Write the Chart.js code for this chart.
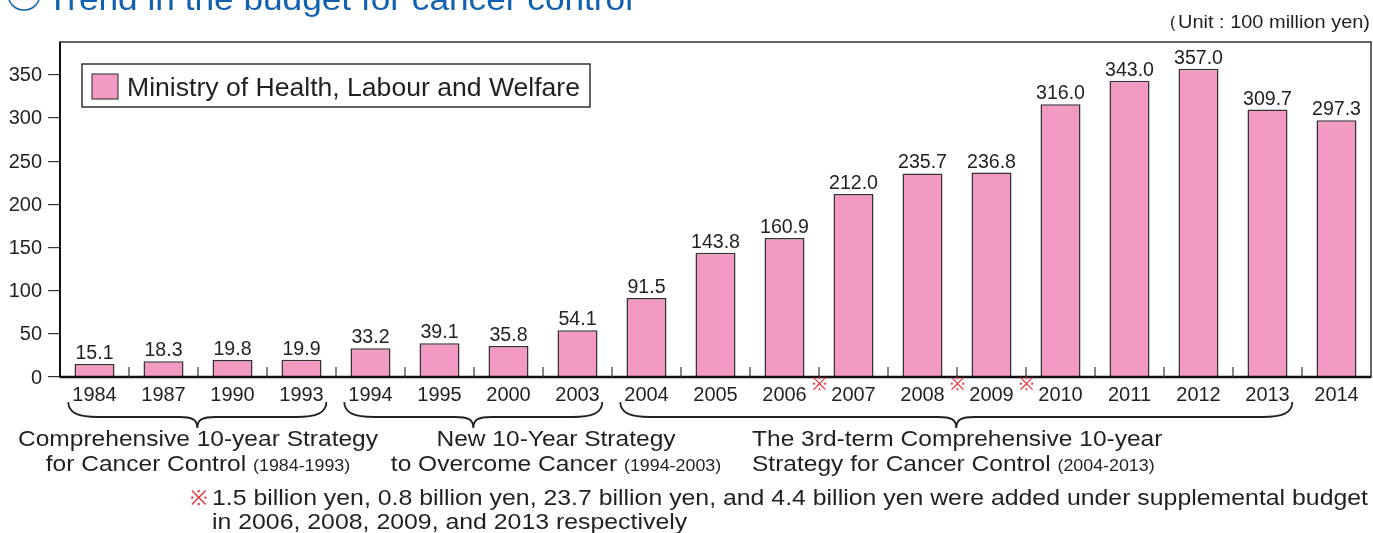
<!DOCTYPE html>
<html><head><meta charset="utf-8">
<script src="https://cdn.jsdelivr.net/npm/chart.js@4.4.1/dist/chart.umd.min.js"></script>
<style>html,body{margin:0;padding:0;background:#fff;}#wrap{width:1373px;height:533px;position:relative;}</style>
</head><body><div id="wrap"><canvas id="c" width="1373" height="533"></canvas></div>
<script>
const years = ['1984','1987','1990','1993','1994','1995','2000','2003','2004','2005','2006','2007','2008','2009','2010','2011','2012','2013','2014'];
const budget = [15.1,18.3,19.8,19.9,33.2,39.1,35.8,54.1,91.5,143.8,160.9,212.0,235.7,236.8,316.0,343.0,357.0,309.7,297.3];
const seriesName = 'Ministry of Health, Labour and Welfare';
const yTicks = [0,50,100,150,200,250,300,350];
const supplementalAfter = ['2006','2008','2009']; // ※ marks between these years and the next
const groups = [
  {from:'1984', to:'1993', line1:'Comprehensive 10-year Strategy', line2:'for Cancer Control ', years:'(1984-1993)'},
  {from:'1994', to:'2003', line1:'New 10-Year Strategy', line2:'to Overcome Cancer ', years:'(1994-2003)'},
  {from:'2004', to:'2013', line1:'The 3rd-term Comprehensive 10-year', line2:'Strategy for Cancer Control ', years:'(2004-2013)'}
];
const titleText = 'Trend in the budget for cancer control';
const unitText = '（Unit : 100 million yen)';
const footLine1 = '1.5 billion yen, 0.8 billion yen, 23.7 billion yen, and 4.4 billion yen were added under supplemental budget';
const footLine2 = 'in 2006, 2008, 2009, and 2013 respectively';

const FONT = '"Liberation Sans", Arial, Helvetica, sans-serif';
const TXT = '#231f20';
const PINK = '#f39ac2';
const RED = '#e8343a';

function txt(ctx, s, x, y, size, sx, align, color, baseline){
  ctx.save();
  ctx.font = size+'px '+FONT; ctx.fillStyle = color||TXT;
  ctx.textAlign='left'; ctx.textBaseline = baseline||'alphabetic';
  const w = ctx.measureText(s).width*sx;
  const left = align==='center' ? x-w/2 : align==='right' ? x-w : x;
  ctx.translate(left,y); ctx.scale(sx,1); ctx.fillText(s,0,0);
  ctx.restore();
  return w;
}
function measure(ctx, s, size){ ctx.save(); ctx.font=size+'px '+FONT; const w=ctx.measureText(s).width; ctx.restore(); return w; }

const deco = {
  id:'deco',
  afterDatasetsDraw(chart){
    const {ctx, chartArea:a, scales:{x,y}} = chart;
    ctx.save();
    // frame
    ctx.strokeStyle = '#333'; ctx.lineWidth = 1.5;
    ctx.strokeRect(a.left, a.top, a.right-a.left, a.bottom-a.top);
    ctx.lineWidth = 2.5; ctx.strokeStyle='#111';
    ctx.beginPath(); ctx.moveTo(a.left, a.bottom); ctx.lineTo(a.right, a.bottom); ctx.stroke();
    ctx.lineWidth = 2; ctx.beginPath(); ctx.moveTo(a.left, a.top); ctx.lineTo(a.left, a.bottom); ctx.stroke();
    // inner x ticks at category boundaries
    const w = x.width / years.length;
    ctx.lineWidth = 1.2; ctx.strokeStyle = '#333';
    for (let i=1;i<years.length;i++){
      const px = x.getPixelForValue(i) - w/2;
      ctx.beginPath(); ctx.moveTo(px, a.bottom); ctx.lineTo(px, a.bottom-10); ctx.stroke();
    }
    // axis tick labels (from the library's scales)
    x.ticks.forEach((t,i)=>{ txt(ctx, x.getLabelForValue(t.value), x.getPixelForTick(i), a.bottom+24, 20, 1.0, 'center'); });
    y.ticks.forEach((t,i)=>{ txt(ctx, String(t.value), 42, y.getPixelForTick(i)+1, 20, 1.0, 'right', TXT, 'middle'); });
    // value labels
    const meta = chart.getDatasetMeta(0);
    meta.data.forEach((bar,i)=>{ txt(ctx, budget[i].toFixed(1), bar.x, bar.y-5, 20, 0.98, 'center'); });
    // legend
    ctx.fillStyle='#fff'; ctx.strokeStyle='#333'; ctx.lineWidth=1.5;
    ctx.fillRect(82,64,508,43); ctx.strokeRect(82,64,508,43);
    ctx.fillStyle=PINK; ctx.fillRect(92,74,26,25); ctx.strokeStyle='#444'; ctx.lineWidth=1.2; ctx.strokeRect(92,74,26,25);
    txt(ctx, seriesName, 127, 96, 25, 453/measure(ctx, seriesName, 25), 'left');
    // ※ marks
    supplementalAfter.forEach(yr=>{
      const i = years.indexOf(yr);
      txt(ctx, '※', x.getPixelForValue(i)+w/2, a.bottom+8, 18, 1.0, 'center', RED, 'middle');
    });
    // braces
    ctx.strokeStyle='#222'; ctx.lineWidth=1.8;
    groups.forEach(g=>{
      const x1 = x.getPixelForValue(years.indexOf(g.from)) - w*0.38;
      const x2 = x.getPixelForValue(years.indexOf(g.to)) + w*0.36;
      const xm = (x1+x2)/2;
      const y0 = a.bottom+25, y1 = a.bottom+40, y2 = a.bottom+51;
      ctx.beginPath();
      ctx.moveTo(x1,y0); ctx.bezierCurveTo(x1,y1-4,x1+10,y1,x1+30,y1);
      ctx.lineTo(xm-18,y1); ctx.bezierCurveTo(xm-6,y1,xm,y1+2,xm,y2);
      ctx.bezierCurveTo(xm,y1+2,xm+6,y1,xm+18,y1);
      ctx.lineTo(x2-30,y1); ctx.bezierCurveTo(x2-10,y1,x2,y1-4,x2,y0);
      ctx.stroke();
    });
    // group texts
    const GS = 360/measure(ctx, groups[0].line1, 22);
    const gx = [{x:198,al:'center'},{x:556,al:'center'},{x:752,al:'left'}];
    groups.forEach((g,k)=>{
      txt(ctx, g.line1, gx[k].x, 446, 22, GS, gx[k].al);
      const w1 = measure(ctx, g.line2, 22)*GS;
      const w2 = measure(ctx, g.years, 16)*GS;
      const sx = gx[k].al==='center' ? gx[k].x-(w1+w2)/2 : gx[k].x;
      txt(ctx, g.line2, sx, 471, 22, GS, 'left');
      txt(ctx, g.years, sx+w1, 471, 16, GS, 'left');
    });
    // footnote
    txt(ctx, '※', 190, 505, 21, 1.0, 'left', RED);
    const fs = 1156/measure(ctx, footLine1, 21.5);
    txt(ctx, footLine1, 212, 505, 21.5, fs, 'left');
    txt(ctx, footLine2, 212, 529, 21.5, fs, 'left');
    // title
    txt(ctx, titleText, 47, 10, 32, 586/measure(ctx, titleText, 32), 'left', '#1260b0');
    ctx.strokeStyle='#1260b0'; ctx.lineWidth=1.6;
    ctx.beginPath(); ctx.ellipse(24,-4,15.5,14,0,0,Math.PI*2); ctx.stroke();
    // unit
    txt(ctx, unitText, 1370, 28, 18, 212/measure(ctx, unitText, 18), 'right');
    ctx.restore();
  }
};

new Chart(document.getElementById('c'), {
  type:'bar',
  data:{ labels: years, datasets:[{ label: seriesName, data: budget, backgroundColor: PINK,
    borderColor:'#333', borderWidth:{top:1.5,left:1.5,right:1.5,bottom:0}, borderSkipped:'bottom',
    categoryPercentage:1.0, barPercentage:0.58 }]},
  options:{
    responsive:false, animation:false,
    layout:{padding:{top:42,right:2,left:0,bottom:0}},
    plugins:{legend:{display:false}, tooltip:{enabled:false}},
    scales:{
      x:{ grid:{display:false, drawTicks:false}, border:{display:false},
        ticks:{color:'rgba(0,0,0,0)', font:{family:FONT,size:16}, padding:7, maxRotation:0, autoSkip:false},
        afterFit(s){ s.height = 156; } },
      y:{ min:0, max:388, border:{display:false},
        grid:{drawOnChartArea:false, drawTicks:true, tickLength:12, tickColor:'#333', lineWidth:1.2},
        afterBuildTicks(s){ s.ticks = yTicks.map(v=>({value:v})); },
        ticks:{color:'rgba(0,0,0,0)', font:{family:FONT,size:16}, padding:5, includeBounds:false},
        afterFit(s){ s.width = 60; } }
    }
  },
  plugins:[deco]
});
</script></body></html>
